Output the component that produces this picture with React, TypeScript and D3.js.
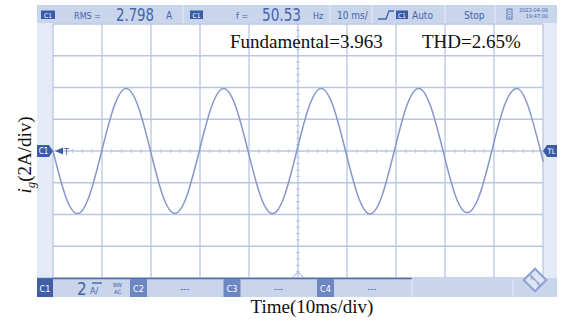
import { useEffect, useRef } from "react";
import * as d3 from "d3";

// waveform samples (time in ms, current in A)
const sampleTimes = [
  0, 2.49, 4.98, 7.46, 9.95, 12.44, 14.93, 17.41, 19.9,
  22.39, 24.88, 27.36, 29.85, 32.34, 34.83, 37.31, 39.8,
  42.29, 44.78, 47.26, 49.75, 52.24, 54.73, 57.21, 59.7,
  62.19, 64.68, 67.16, 69.65, 72.14, 74.63, 77.11, 79.6,
  82.09, 84.58, 87.06, 89.55, 92.04, 94.53, 97.01, 99.5, 100,
];
const sampleCurrent = [
  0, -2.78, -3.94, -2.78, 0, 2.78, 3.94, 2.78,
  0, -2.8, -3.92, -2.78, 0, 2.78, 3.94, 2.78,
  0, -2.78, -3.94, -2.8, 0, 2.78, 3.94, 2.78,
  0, -2.78, -3.96, -2.8, 0, 2.8, 3.94, 2.78,
  0, -2.78, -3.88, -2.76, 0, 2.78, 3.94, 2.78,
  0, -0.62,
];

const timeTicks = d3.range(0, 101, 10);
const currentTicks = d3.range(-8, 9, 2);

const topReadouts = [
  { text: "RMS =", x: 74, size: 9 },
  { text: "2.798", x: 116, size: 18, len: 38 },
  { text: "A", x: 166, size: 10 },
  { text: "f =", x: 236, size: 9 },
  { text: "50.53", x: 262, size: 18, len: 39 },
  { text: "Hz", x: 313, size: 9 },
  { text: "10 ms/", x: 337, size: 10 },
  { text: "Auto", x: 412, size: 10 },
  { text: "Stop", x: 464, size: 10 },
];
const topDividers = [183, 330, 372, 445, 495];
const channelBadges = ["C2", "C3", "C4"];

const fundamentalLabel = "Fundamental=3.963";
const thdLabel = "THD=2.65%";

const W = 562;
const H = 322;

export default function App() {
  const ref = useRef<SVGSVGElement | null>(null);

  useEffect(() => {
    const svg = d3.select(ref.current);
    svg.selectAll("*").remove();

    const margin = { left: 53, right: 543, top: 24, bottom: 278 };
    const ui = "'DejaVu Sans Condensed', 'Noto Sans', sans-serif";
    const serif = "'Liberation Serif', 'Times New Roman', serif";
    const barFill = "#c8d5eb";
    const textBlue = "#4564aa";
    const badge = "#3a5ba8";
    const gridColor = "#b8c6e3";

    const x = d3.scaleLinear().domain([0, 100]).range([margin.left, margin.right]);
    const y = d3.scaleLinear().domain([-8, 8]).range([margin.bottom, margin.top]);

    // screen background
    svg.append("rect").attr("x", 37).attr("y", 5).attr("width", 520).attr("height", 292).attr("fill", "#e5ebf6");
    svg
      .append("rect")
      .attr("x", margin.left)
      .attr("y", margin.top)
      .attr("width", margin.right - margin.left)
      .attr("height", margin.bottom - margin.top)
      .attr("fill", "#fff");

    // grid
    const grid = svg.append("g").attr("stroke", gridColor).attr("stroke-width", 1.3);
    timeTicks.forEach((t) =>
      grid.append("line").attr("x1", x(t)).attr("x2", x(t)).attr("y1", margin.top).attr("y2", margin.bottom)
    );
    currentTicks.forEach((v) =>
      grid.append("line").attr("x1", margin.left).attr("x2", margin.right).attr("y1", y(v)).attr("y2", y(v))
    );
    // minor ticks on centre lines
    d3.range(0, 100.01, 2).forEach((t) =>
      grid.append("line").attr("x1", x(t)).attr("x2", x(t)).attr("y1", y(0) - 2).attr("y2", y(0) + 2).attr("stroke-width", 1)
    );
    d3.range(-8, 8.01, 0.4).forEach((v) =>
      grid.append("line").attr("x1", x(50) - 2).attr("x2", x(50) + 2).attr("y1", y(v)).attr("y2", y(v)).attr("stroke-width", 1)
    );
    svg
      .append("path")
      .attr("d", `M${x(50) - 6},${margin.bottom} L${x(50)},${margin.bottom - 6} L${x(50) + 6},${margin.bottom}`)
      .attr("fill", "none")
      .attr("stroke", gridColor)
      .attr("stroke-width", 1.2);

    // waveform
    const pts = sampleTimes.map((t, i) => [t, sampleCurrent[i]] as [number, number]);
    const line = d3
      .line<[number, number]>()
      .x((d) => x(d[0]))
      .y((d) => y(d[1]))
      .curve(d3.curveNatural);
    svg
      .append("path")
      .datum(pts)
      .attr("fill", "none")
      .attr("stroke", "#8598c9")
      .attr("stroke-width", 1.5)
      .attr("d", line);

    // top status bar
    svg.append("rect").attr("x", 37).attr("y", 5).attr("width", 520).attr("height", 18).attr("fill", barFill);
    topDividers.forEach((d) =>
      svg.append("line").attr("x1", d).attr("x2", d).attr("y1", 5).attr("y2", 23).attr("stroke", "#e2e9f5").attr("stroke-width", 1.2)
    );
    const smallBadge = (bx: number, w: number) => {
      svg.append("rect").attr("x", bx).attr("y", 10.5).attr("width", w).attr("height", 8.5).attr("fill", badge);
      svg
        .append("text")
        .attr("x", bx + w / 2)
        .attr("y", 17.5)
        .attr("text-anchor", "middle")
        .attr("font-family", ui)
        .attr("font-size", 6.5)
        .attr("fill", "#fff")
        .text("C1");
    };
    smallBadge(41, 14);
    smallBadge(190, 13);
    smallBadge(396, 12);
    topReadouts.forEach((r) => {
      const t = svg
        .append("text")
        .attr("x", r.x)
        .attr("y", r.size > 12 ? 20.5 : 19)
        .attr("font-family", ui)
        .attr("font-size", r.size)
        .attr("fill", textBlue)
        .text(r.text);
      if (r.len) t.attr("textLength", r.len).attr("lengthAdjust", "spacingAndGlyphs");
    });
    svg
      .append("path")
      .attr("d", "M378,19 L386,19 L389,11 L394,11")
      .attr("fill", "none")
      .attr("stroke", textBlue)
      .attr("stroke-width", 1.3);
    svg.append("rect").attr("x", 507).attr("y", 9).attr("width", 5).attr("height", 10).attr("fill", "none").attr("stroke", textBlue).attr("stroke-width", 0.8);
    d3.range(3).forEach((i) =>
      svg.append("line").attr("x1", 508.5).attr("x2", 510.5).attr("y1", 12 + i * 2.5).attr("y2", 12 + i * 2.5).attr("stroke", textBlue).attr("stroke-width", 0.8)
    );
    [
      ["2022-04-09", 12],
      ["19:47:00", 18],
    ].forEach(([s, by]) =>
      svg
        .append("text")
        .attr("x", 548)
        .attr("y", by as number)
        .attr("text-anchor", "end")
        .attr("font-family", ui)
        .attr("font-size", 5.5)
        .attr("fill", textBlue)
        .text(s as string)
    );

    // channel / trigger markers
    const cy = y(0);
    svg
      .append("path")
      .attr("d", `M37,${cy - 6} L49,${cy - 6} L53,${cy} L49,${cy + 6} L37,${cy + 6} Z`)
      .attr("fill", badge);
    svg.append("text").attr("x", 43.5).attr("y", cy + 3).attr("text-anchor", "middle").attr("font-family", ui).attr("font-size", 8).attr("fill", "#fff").text("C1");
    svg.append("path").attr("d", `M55,${cy} L63,${cy - 3.5} L63,${cy + 3.5} Z`).attr("fill", badge);
    svg.append("text").attr("x", 64).attr("y", cy + 3.5).attr("font-family", ui).attr("font-size", 9).attr("fill", badge).text("T");
    svg
      .append("path")
      .attr("d", `M543,${cy} L547,${cy - 6} L557,${cy - 6} L557,${cy + 6} L547,${cy + 6} Z`)
      .attr("fill", badge);
    svg.append("text").attr("x", 551.5).attr("y", cy + 3).attr("text-anchor", "middle").attr("font-family", ui).attr("font-size", 7.5).attr("fill", "#fff").text("TL");

    // bottom channel bar
    svg.append("rect").attr("x", 37).attr("y", 278).attr("width", 520).attr("height", 19).attr("fill", barFill);
    svg.append("line").attr("x1", 37).attr("x2", 412).attr("y1", 278.5).attr("y2", 278.5).attr("stroke", "#4d6cb1").attr("stroke-width", 1.6);
    [412, 513].forEach((d) =>
      svg.append("line").attr("x1", d).attr("x2", d).attr("y1", 279).attr("y2", 297).attr("stroke", "#e2e9f5").attr("stroke-width", 1.2)
    );
    svg.append("rect").attr("x", 37).attr("y", 279).attr("width", 16).attr("height", 18).attr("fill", "#3f5fa9");
    svg.append("text").attr("x", 45).attr("y", 292).attr("text-anchor", "middle").attr("font-family", ui).attr("font-size", 9).attr("fill", "#fff").text("C1");
    svg.append("text").attr("x", 77).attr("y", 294.5).attr("font-family", ui).attr("font-size", 17).attr("fill", textBlue).text("2");
    svg.append("text").attr("x", 90).attr("y", 294).attr("font-family", ui).attr("font-size", 9).attr("fill", textBlue).text("A/");
    svg.append("line").attr("x1", 92).attr("x2", 102).attr("y1", 283).attr("y2", 283).attr("stroke", textBlue).attr("stroke-width", 1.4);
    svg.append("text").attr("x", 113).attr("y", 287).attr("font-family", ui).attr("font-size", 6).attr("fill", textBlue).text("BW");
    svg.append("text").attr("x", 114).attr("y", 294).attr("font-family", ui).attr("font-size", 6).attr("fill", textBlue).text("AC");
    channelBadges.forEach((c, i) => {
      const bx = 130 + i * 93.5;
      svg.append("rect").attr("x", bx).attr("y", 279).attr("width", 17).attr("height", 18).attr("fill", "#6d87c3");
      svg.append("text").attr("x", bx + 8.5).attr("y", 292).attr("text-anchor", "middle").attr("font-family", ui).attr("font-size", 9).attr("fill", "#fff").text(c);
      svg.append("text").attr("x", bx + 55).attr("y", 292).attr("text-anchor", "middle").attr("font-family", ui).attr("font-size", 9).attr("fill", textBlue).text("---");
    });
    // R&S logo
    const logo = svg.append("g").attr("transform", "translate(535,280)");
    logo.append("rect").attr("x", -8).attr("y", -8).attr("width", 16).attr("height", 16).attr("transform", "rotate(45)").attr("fill", "#dfe6f3").attr("stroke", "#8fa4d2").attr("stroke-width", 2.2);
    logo.append("line").attr("x1", -6).attr("y1", -6).attr("x2", 6).attr("y2", 6).attr("stroke", "#8fa4d2").attr("stroke-width", 1.2);
    logo.append("text").attr("x", -3).attr("y", -0.5).attr("text-anchor", "middle").attr("font-family", ui).attr("font-size", 6).attr("fill", "#7f96cb").text("R");
    logo.append("text").attr("x", 3.5).attr("y", 7).attr("text-anchor", "middle").attr("font-family", ui).attr("font-size", 6).attr("fill", "#7f96cb").text("S");

    // measurement annotation
    svg.append("text").attr("x", 230).attr("y", 47.5).attr("font-family", serif).attr("font-size", 19).attr("fill", "#111").text(fundamentalLabel);
    svg.append("text").attr("x", 422).attr("y", 47.5).attr("font-family", serif).attr("font-size", 19).attr("fill", "#111").text(thdLabel);

    // axis titles
    const yl = svg
      .append("text")
      .attr("transform", "translate(31,155) rotate(-90)")
      .attr("text-anchor", "middle")
      .attr("font-family", serif)
      .attr("font-size", 19)
      .attr("fill", "#111");
    yl.append("tspan").attr("font-style", "italic").text("i");
    yl.append("tspan").attr("font-style", "italic").attr("font-size", 13).attr("dy", 4).text("g");
    yl.append("tspan").attr("dy", -4).text("(2A/div)");

    svg
      .append("text")
      .attr("x", 312)
      .attr("y", 313)
      .attr("text-anchor", "middle")
      .attr("font-family", serif)
      .attr("font-size", 19)
      .attr("fill", "#111")
      .text("Time(10ms/div)");
  }, []);

  return <svg ref={ref} width={W} height={H} style={{ position: "absolute", left: 0, top: 0, background: "#fff" }} />;
}
